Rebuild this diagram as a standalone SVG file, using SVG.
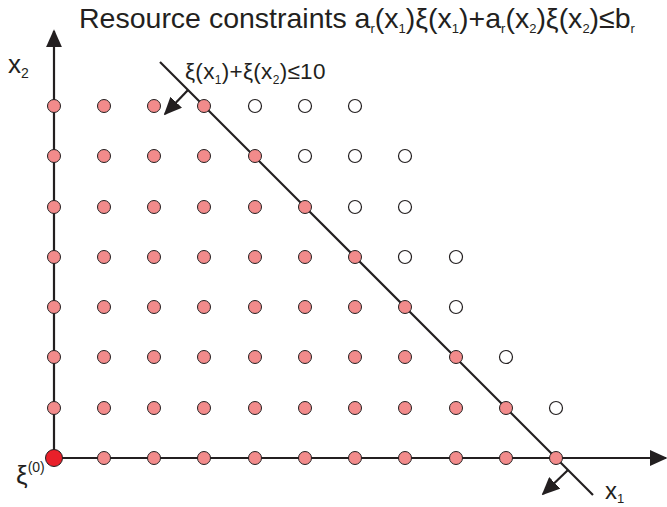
<svg xmlns="http://www.w3.org/2000/svg" width="667" height="507" viewBox="0 0 667 507">
<defs>
<style>
.ax{stroke:#231f20;stroke-width:2.2;fill:none}
.f{fill:#f28b8b;stroke:#231f20;stroke-width:1}
.o{fill:#fff;stroke:#231f20;stroke-width:1.2}
.t{font-family:"Liberation Sans",Arial,sans-serif;fill:#231f20}
</style>
<marker id="ah" viewBox="0 0 10 10" refX="9" refY="5" markerWidth="18" markerHeight="16" markerUnits="userSpaceOnUse" orient="auto" preserveAspectRatio="none">
<path d="M0,0 L10,5 L0,10 z" fill="#231f20"/>
</marker>
</defs>
<rect width="667" height="507" fill="#fff"/>
<g id="connectors">
<line class="ax" x1="54" y1="458" x2="54" y2="31" marker-end="url(#ah)"/>
<line class="ax" x1="54" y1="458" x2="666" y2="458" marker-end="url(#ah)"/>
<line class="ax" x1="160" y1="62" x2="593" y2="495"/>
<line class="ax" x1="188" y1="90" x2="165" y2="114" marker-end="url(#ah)"/>
<line class="ax" x1="568" y1="470" x2="543" y2="494" marker-end="url(#ah)"/>
</g>
<g id="points">
<g id="row7"><circle class="f" cx="54" cy="106" r="6.5"/><circle class="f" cx="104" cy="106" r="6.5"/><circle class="f" cx="154" cy="106" r="6.5"/><circle class="f" cx="204" cy="106" r="6.5"/><circle class="o" cx="255" cy="106" r="6.5"/><circle class="o" cx="305" cy="106" r="6.5"/><circle class="o" cx="355" cy="106" r="6.5"/></g>
<g id="row6"><circle class="f" cx="54" cy="156" r="6.5"/><circle class="f" cx="104" cy="156" r="6.5"/><circle class="f" cx="154" cy="156" r="6.5"/><circle class="f" cx="204" cy="156" r="6.5"/><circle class="f" cx="255" cy="156" r="6.5"/><circle class="o" cx="305" cy="156" r="6.5"/><circle class="o" cx="355" cy="156" r="6.5"/><circle class="o" cx="405" cy="156" r="6.5"/></g>
<g id="row5"><circle class="f" cx="54" cy="207" r="6.5"/><circle class="f" cx="104" cy="207" r="6.5"/><circle class="f" cx="154" cy="207" r="6.5"/><circle class="f" cx="204" cy="207" r="6.5"/><circle class="f" cx="255" cy="207" r="6.5"/><circle class="f" cx="305" cy="207" r="6.5"/><circle class="o" cx="355" cy="207" r="6.5"/><circle class="o" cx="405" cy="207" r="6.5"/></g>
<g id="row4"><circle class="f" cx="54" cy="257" r="6.5"/><circle class="f" cx="104" cy="257" r="6.5"/><circle class="f" cx="154" cy="257" r="6.5"/><circle class="f" cx="204" cy="257" r="6.5"/><circle class="f" cx="255" cy="257" r="6.5"/><circle class="f" cx="305" cy="257" r="6.5"/><circle class="f" cx="355" cy="257" r="6.5"/><circle class="o" cx="405" cy="257" r="6.5"/><circle class="o" cx="456" cy="257" r="6.5"/></g>
<g id="row3"><circle class="f" cx="54" cy="307" r="6.5"/><circle class="f" cx="104" cy="307" r="6.5"/><circle class="f" cx="154" cy="307" r="6.5"/><circle class="f" cx="204" cy="307" r="6.5"/><circle class="f" cx="255" cy="307" r="6.5"/><circle class="f" cx="305" cy="307" r="6.5"/><circle class="f" cx="355" cy="307" r="6.5"/><circle class="f" cx="405" cy="307" r="6.5"/><circle class="o" cx="456" cy="307" r="6.5"/></g>
<g id="row2"><circle class="f" cx="54" cy="357" r="6.5"/><circle class="f" cx="104" cy="357" r="6.5"/><circle class="f" cx="154" cy="357" r="6.5"/><circle class="f" cx="204" cy="357" r="6.5"/><circle class="f" cx="255" cy="357" r="6.5"/><circle class="f" cx="305" cy="357" r="6.5"/><circle class="f" cx="355" cy="357" r="6.5"/><circle class="f" cx="405" cy="357" r="6.5"/><circle class="f" cx="456" cy="357" r="6.5"/><circle class="o" cx="506" cy="357" r="6.5"/></g>
<g id="row1"><circle class="f" cx="54" cy="408" r="6.5"/><circle class="f" cx="104" cy="408" r="6.5"/><circle class="f" cx="154" cy="408" r="6.5"/><circle class="f" cx="204" cy="408" r="6.5"/><circle class="f" cx="255" cy="408" r="6.5"/><circle class="f" cx="305" cy="408" r="6.5"/><circle class="f" cx="355" cy="408" r="6.5"/><circle class="f" cx="405" cy="408" r="6.5"/><circle class="f" cx="456" cy="408" r="6.5"/><circle class="f" cx="506" cy="408" r="6.5"/><circle class="o" cx="556" cy="408" r="6.5"/></g>
<g id="row0"><circle class="f" cx="104" cy="458" r="6.5"/><circle class="f" cx="154" cy="458" r="6.5"/><circle class="f" cx="204" cy="458" r="6.5"/><circle class="f" cx="255" cy="458" r="6.5"/><circle class="f" cx="305" cy="458" r="6.5"/><circle class="f" cx="355" cy="458" r="6.5"/><circle class="f" cx="405" cy="458" r="6.5"/><circle class="f" cx="456" cy="458" r="6.5"/><circle class="f" cx="506" cy="458" r="6.5"/><circle class="f" cx="556" cy="458" r="6.5"/></g>
<g id="origin"><circle cx="54" cy="458" r="8.5" fill="#e8202a" stroke="#231f20" stroke-width="1"/></g>
</g>
<g id="labels">
<text class="t" x="79" y="28" font-size="28.5">Resource constraints a<tspan font-size="13" dy="5">r</tspan><tspan dy="-5">(x</tspan><tspan font-size="13" dy="5">1</tspan><tspan dy="-5">)ξ(x</tspan><tspan font-size="13" dy="5">1</tspan><tspan dy="-5">)+a</tspan><tspan font-size="13" dy="5">r</tspan><tspan dy="-5">(x</tspan><tspan font-size="13" dy="5">2</tspan><tspan dy="-5">)ξ(x</tspan><tspan font-size="13" dy="5">2</tspan><tspan dy="-5">)≤b</tspan><tspan font-size="13" dy="5">r</tspan></text>
<text class="t" x="185" y="79" font-size="22.5" letter-spacing="0.3">ξ(x<tspan font-size="12" dy="5">1</tspan><tspan dy="-5">)+ξ(x</tspan><tspan font-size="12" dy="5">2</tspan><tspan dy="-5">)≤10</tspan></text>
<text class="t" x="8" y="73" font-size="26">x<tspan font-size="14" dy="5">2</tspan></text>
<text class="t" x="605" y="499" font-size="24">x<tspan font-size="13" dy="4">1</tspan></text>
<text class="t" x="16" y="484" font-size="26">ξ<tspan font-size="14" dy="-12">(0)</tspan></text>
</g>
</svg>
